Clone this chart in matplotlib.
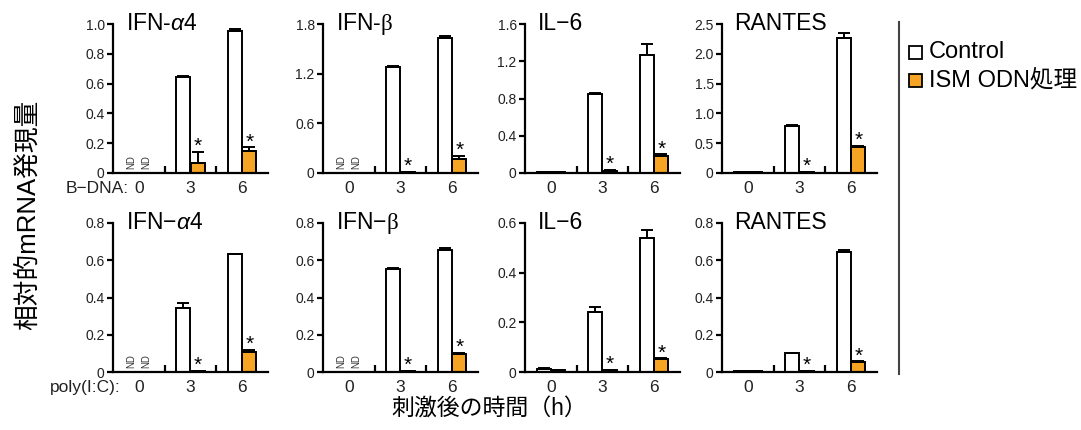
import numpy as np
import matplotlib
matplotlib.use("Agg")
import matplotlib.pyplot as plt
from matplotlib.lines import Line2D
from matplotlib.patches import Rectangle

plt.rcParams['font.family'] = ['Liberation Sans', 'Noto Sans CJK JP', 'DejaVu Sans']
plt.rcParams['mathtext.fontset'] = 'custom'
plt.rcParams['mathtext.rm'] = 'Liberation Sans'
plt.rcParams['mathtext.it'] = 'Liberation Sans:italic'
plt.rcParams['mathtext.cal'] = 'Liberation Serif'

# ── Data ──────────────────────────────────────────────────────────────────────
TIMES = ["0", "3", "6"]
ROW_LABELS = ["B−DNA:", "poly(I:C):"]
TITLES_BDNA = ["IFN-$\\alpha$4", "IFN-$\\mathcal{β}$", "IL−6", "RANTES"]
TITLES_POLY = ["IFN−$\\alpha$4", "IFN−$\\mathcal{β}$", "IL−6", "RANTES"]
LEGEND_LABELS = ["Control", "ISM ODN処理"]
YLABEL = "相対的mRNA発現量"
XLABEL = "刺激後の時間（h）"

# rows: IFN-a4, IFN-b, IL-6, RANTES ; columns: 0h, 3h, 6h
BDNA_CTRL     = [[0, 0.645, 0.951], [0, 1.285, 1.627], [0.012, 0.852, 1.269], [0.015, 0.787, 2.264]]
BDNA_CTRL_ERR = [[0, 0.005, 0.015], [0, 0.010, 0.030], [0.003, 0.010, 0.115], [0.005, 0.020, 0.090]]
BDNA_ISM      = [[0, 0.067, 0.148], [0, 0.008, 0.169], [0.010, 0.025, 0.187], [0.012, 0.012, 0.444]]
BDNA_ISM_ERR  = [[0, 0.075, 0.024], [0, 0.002, 0.040], [0.002, 0.004, 0.012], [0.002, 0.003, 0.012]]
BDNA_ND       = [True, True, False, False]
BDNA_YTICKS   = [[0, 0.2, 0.4, 0.6, 0.8, 1.0], [0, 0.6, 1.2, 1.8],
                 [0, 0.4, 0.8, 1.2, 1.6], [0, 0.5, 1.0, 1.5, 2.0, 2.5]]

POLY_CTRL     = [[0, 0.345, 0.633], [0, 0.554, 0.656], [0.013, 0.243, 0.540], [0.005, 0.100, 0.642]]
POLY_CTRL_ERR = [[0, 0.027, 0.002], [0, 0.003, 0.009], [0.003, 0.020, 0.031], [0.001, 0.002, 0.014]]
POLY_ISM      = [[0, 0.003, 0.108], [0, 0.004, 0.099], [0.008, 0.008, 0.052], [0.005, 0.005, 0.054]]
POLY_ISM_ERR  = [[0, 0.001, 0.009], [0, 0.001, 0.002], [0.001, 0.002, 0.003], [0.001, 0.001, 0.003]]
POLY_ND       = [True, True, False, False]
POLY_YTICKS   = [[0, 0.2, 0.4, 0.6, 0.8], [0, 0.2, 0.4, 0.6, 0.8],
                 [0, 0.2, 0.4, 0.6], [0, 0.2, 0.4, 0.6, 0.8]]

STAR_GROUPS = [1, 2]   # * on 3h and 6h ISM bars

ORANGE = "#F5A523"
TXT = "#222222"

# ── Layout (pixels) ───────────────────────────────────────────────────────────
W, H = 1081, 430
LEFTS = [113, 323, 525, 722]
AX_W = 155
ROW_ZERO = [173, 372]
AX_H = 149
BW = 0.27
OFF = 0.14


def draw_panel(ax, title, ctrl, ctrl_err, ism, ism_err, nd, yticks, row_label):
    x = np.arange(len(TIMES))
    ctrl = np.array(ctrl); ism = np.array(ism)
    ctrl_err = np.array(ctrl_err); ism_err = np.array(ism_err)
    keep = np.ones(len(x), bool)
    if nd:
        keep[0] = False

    ax.bar(x[keep] - OFF, ctrl[keep], BW, color="white", edgecolor="black", linewidth=1.4, zorder=2)
    ax.bar(x[keep] + OFF, ism[keep], BW, color=ORANGE, edgecolor="black", linewidth=1.4, zorder=2)
    for xs, v, e in ((x - OFF, ctrl, ctrl_err), (x + OFF, ism, ism_err)):
        m = keep & (e > 0)
        ax.errorbar(xs[m], v[m], yerr=[np.zeros(m.sum()), e[m]], fmt="none",
                    ecolor="black", elinewidth=1.4, capsize=4, capthick=1.4, zorder=3)

    for g in STAR_GROUPS:
        ax.annotate("*", xy=(g + OFF, ism[g] + ism_err[g]), xytext=(0, 0),
                    textcoords="offset points", ha="center", va="baseline",
                    fontsize=15, color="black")

    if nd:
        for xs in (-OFF, OFF):
            ax.annotate("ND", xy=(xs, 0), xytext=(0, 3), textcoords="offset points",
                        rotation=90, ha="center", va="bottom", fontsize=7, color="#333333")

    ymax = yticks[-1]
    ax.set_xlim(-0.5, 2.5)
    ax.set_ylim(0, ymax)
    for s in ("top", "right"):
        ax.spines[s].set_visible(False)
    for s in ("left", "bottom"):
        ax.spines[s].set_linewidth(1.6)

    ax.set_xticks(x)
    ax.set_xticklabels(TIMES, fontsize=12.5, color=TXT)
    ax.tick_params(axis="x", which="major", length=0, pad=6)
    ax.set_xticks([0.5, 1.5], minor=True)
    ax.tick_params(axis="x", which="minor", direction="in", length=5, width=1.6)

    ax.set_yticks(yticks)
    ax.set_yticklabels(["0" if v == 0 else f"{v:.1f}" for v in yticks], fontsize=10, color=TXT)
    ax.tick_params(axis="y", direction="out", length=4, width=1.6, pad=2)

    ax.annotate(title, xy=(0, 1), xycoords="axes fraction", xytext=(9, 0),
                textcoords="offset points", ha="left", va="center", fontsize=16.5)

    if row_label:
        ax.annotate(row_label, xy=(-0.19 if "DNA" in row_label else -0.35, 0),
                    xycoords=ax.get_xaxis_transform(), xytext=(0, -6),
                    textcoords="offset points", ha="right", va="top",
                    fontsize=12.5, color=TXT)


fig = plt.figure(figsize=(W / 100, H / 100), dpi=100)

rows = [
    (TITLES_BDNA, BDNA_CTRL, BDNA_CTRL_ERR, BDNA_ISM, BDNA_ISM_ERR, BDNA_ND, BDNA_YTICKS, ROW_LABELS[0]),
    (TITLES_POLY, POLY_CTRL, POLY_CTRL_ERR, POLY_ISM, POLY_ISM_ERR, POLY_ND, POLY_YTICKS, ROW_LABELS[1]),
]
for r, (titles, c, ce, s, se, nd, yt, rl) in enumerate(rows):
    for i in range(4):
        ax = fig.add_axes([LEFTS[i] / W, (H - ROW_ZERO[r]) / H, AX_W / W, AX_H / H])
        draw_panel(ax, titles[i], c[i], ce[i], s[i], se[i], nd[i], yt[i],
                   rl if i == 0 else None)

fig.text(28 / W, 1 - 215 / H, YLABEL, rotation=90, ha="center", va="center", fontsize=18.5)
fig.text(489 / W, 1 - 409 / H, XLABEL, ha="center", va="center", fontsize=16.5)

# divider and legend
fig.add_artist(Line2D([899 / W, 899 / W], [1 - 22 / H, 1 - 374 / H], color="#444444", lw=1.5))
for k, (lab, fc) in enumerate(zip(LEGEND_LABELS, ["white", ORANGE])):
    yc = [52, 80][k]
    fig.add_artist(Rectangle((909 / W, 1 - (yc + 6.5) / H), 13 / W, 13 / H,
                             facecolor=fc, edgecolor="black", lw=1.3,
                             transform=fig.transFigure))
    fig.text(929 / W, 1 - yc / H, lab, ha="left", va="center", fontsize=17)

fig.savefig("out.png", dpi=100)
